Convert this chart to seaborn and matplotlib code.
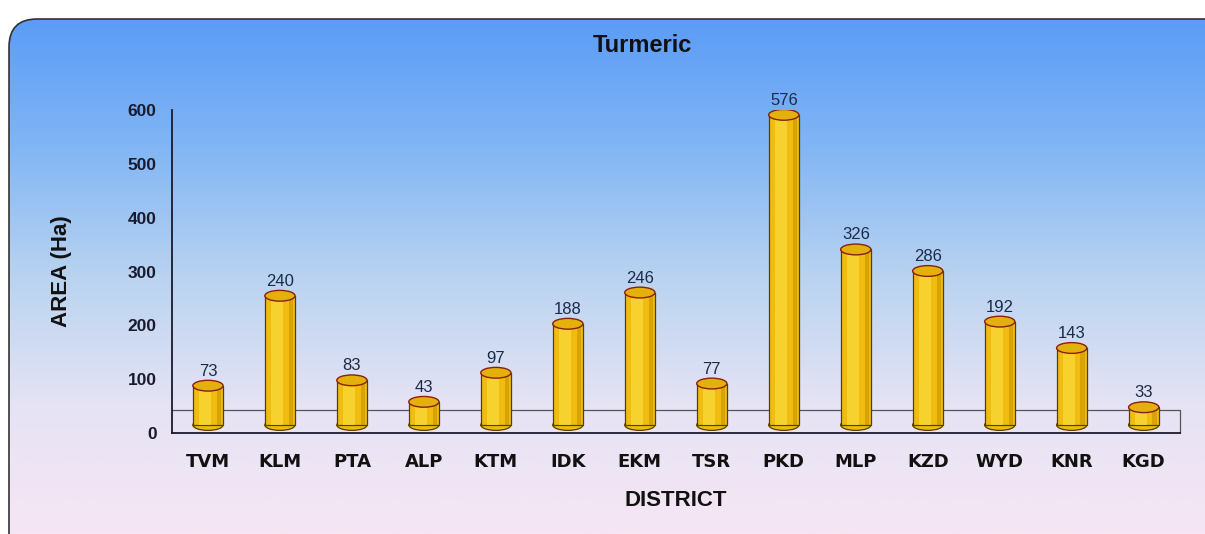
import numpy as np
import pandas as pd
import matplotlib
matplotlib.use("Agg")
import matplotlib.pyplot as plt
from matplotlib.patches import Ellipse, FancyBboxPatch
from matplotlib.colors import LinearSegmentedColormap
import seaborn as sns

districts = ["TVM", "KLM", "PTA", "ALP", "KTM", "IDK", "EKM",
             "TSR", "PKD", "MLP", "KZD", "WYD", "KNR", "KGD"]
area = [73, 240, 83, 43, 97, 188, 246, 77, 576, 326, 286, 192, 143, 33]

df = pd.DataFrame({"District": districts, "Area": area})

sns.set_style("white")
plt.rcParams["font.family"] = ["Liberation Sans", "DejaVu Sans"]

fig = plt.figure(figsize=(12.05, 5.34), dpi=100)

# background panel with vertical gradient
bg = fig.add_axes([0, 0, 1, 1], zorder=0)
bg.set_xlim(0, 1205)
bg.set_ylim(534, 0)
bg.axis("off")
cmap = LinearSegmentedColormap.from_list(
    "bgfade", ["#5b9cf6", "#82b6f4", "#b9d3f0", "#e6e3f4", "#f6e6f4"])
grad = np.linspace(0, 1, 256).reshape(-1, 1)
panel = FancyBboxPatch((9, 19), 1230, 560, boxstyle="round,pad=0,rounding_size=28",
                       facecolor="none", edgecolor="#333333", linewidth=1.2)
bg.add_patch(panel)
im = bg.imshow(grad, cmap=cmap, extent=(9, 1240, 534, 19), aspect="auto")
im.set_clip_path(panel)

ax = fig.add_axes([0.1427, 0.189, 0.979 - 0.1427, 0.605], zorder=1)
ax.patch.set_alpha(0)

depth = 15   # 3D floor offset
bw = 0.42

sns.barplot(data=df, x="District", y="Area", ax=ax, color="#f0bc10",
            width=bw, saturation=1, bottom=depth, edgecolor="#5a3d00",
            linewidth=0.9, zorder=3)

# cylinder shading and caps
for i, v in enumerate(area):
    ax.bar(i - 0.04, v, bottom=depth, width=bw * 0.4, color="#fadc3c",
           alpha=0.7, linewidth=0, zorder=4)
    ax.bar(i + bw * 0.36, v, bottom=depth, width=bw * 0.14, color="#c78f00",
           alpha=0.55, linewidth=0, zorder=4)
    ax.add_patch(Ellipse((i, depth), bw, 20, facecolor="#f0bc10",
                         edgecolor="#5a3d00", linewidth=0.9, zorder=2.9))
    ax.add_patch(Ellipse((i, depth + v), bw, 20, facecolor="#e3b00c",
                         edgecolor="#8a1f10", linewidth=1.0, zorder=5))
    ax.text(i, depth + v + 13, str(v), ha="center", va="bottom",
            fontsize=12, color="#1c2a4a", clip_on=False, zorder=6)

ax.set_xlim(-0.5, 13.5)
ax.set_ylim(0, 600)
ax.set_yticks(range(0, 601, 100))

# back floor line
ax.plot([-0.5, 13.5], [43, 43], color="#555555", linewidth=0.9, zorder=1)
ax.plot([13.5, 13.5], [0, 43], color="#555555", linewidth=0.9,
        zorder=1, clip_on=False)

for s in ["top", "right"]:
    ax.spines[s].set_visible(False)
ax.spines["left"].set_color("#1a1a2e")
ax.spines["bottom"].set_color("#1a1a2e")
ax.spines["left"].set_linewidth(1.3)
ax.spines["bottom"].set_linewidth(1.3)

ax.tick_params(axis="y", direction="out", length=5, width=1, color="#1a1a2e",
               labelsize=12.5, pad=6)
for t in ax.get_yticklabels():
    t.set_fontweight("bold")
    t.set_color("#1a1a2e")

ax.set_xticks(np.arange(-0.5, 14, 1), minor=True)
ax.set_xticks(range(len(districts)))
ax.set_xticklabels(districts, fontfamily="DejaVu Sans", fontweight="bold",
                   fontsize=13, color="#111111")
ax.tick_params(axis="x", which="major", length=0, pad=14)
ax.tick_params(axis="x", which="minor", direction="out", length=6, width=1,
               color="#1a1a2e")

ax.set_xlabel("DISTRICT", fontsize=16, fontweight="bold", labelpad=14,
              color="#111111")
ax.set_ylabel("AREA (Ha)", fontsize=16, fontweight="bold", labelpad=40,
              color="#111111")
fig.text(0.533, 0.915, "Turmeric", ha="center", va="center", fontsize=17,
         fontweight="bold", color="#111111", zorder=2)

fig.savefig("out.png", dpi=100)
